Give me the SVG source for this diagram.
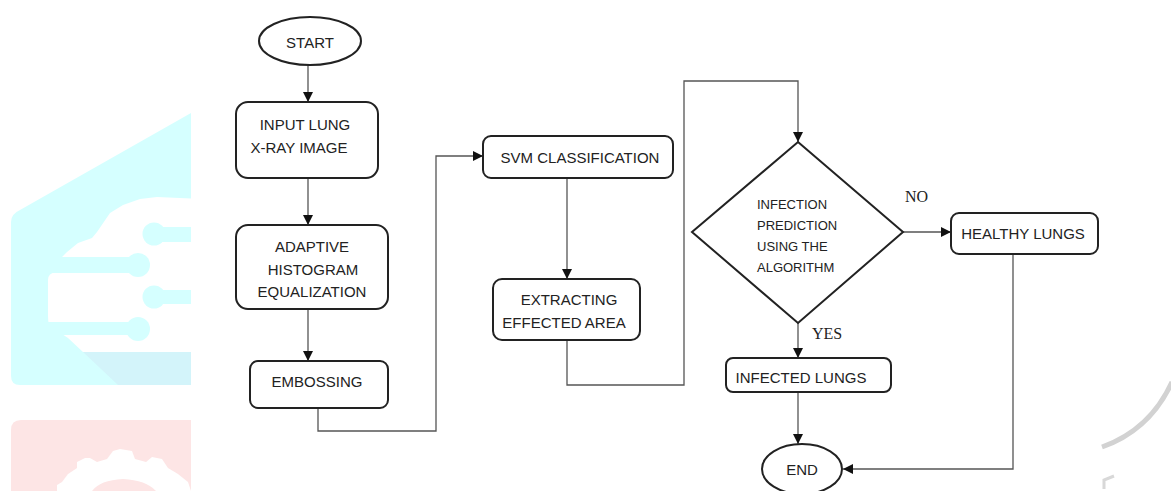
<svg xmlns="http://www.w3.org/2000/svg" width="1171" height="491" viewBox="0 0 1171 491">
  <style>
    .box { fill: #ffffff; stroke: #222222; stroke-width: 2; }
    .lbl { font-family: "Liberation Sans", Arial, sans-serif; font-size: 15px; fill: #222222; text-anchor: middle; dominant-baseline: central; }
    .dlbl { font-family: "Liberation Sans", Arial, sans-serif; font-size: 13px; fill: #222222; dominant-baseline: central; }
    .tag { font-family: "Liberation Serif", "Times New Roman", serif; font-size: 16px; fill: #222222; dominant-baseline: central; }
    .link { fill: none; stroke: #555555; stroke-width: 1.3; marker-end: url(#arrow); }
    .plain { fill: none; stroke: #555555; stroke-width: 1.3; }
  </style>
  <defs>
    <marker id="arrow" markerUnits="userSpaceOnUse" markerWidth="10" markerHeight="10" refX="10" refY="5" orient="auto">
      <path d="M0,0 L10,5 L0,10 z" fill="#111111"/>
    </marker>
    <clipPath id="wmclip">
      <rect x="0" y="0" width="191" height="491"/>
    </clipPath>
  </defs>

  <rect width="1171" height="491" fill="#ffffff"/>

  <!-- faded background emblem -->
  <g id="emblem" clip-path="url(#wmclip)">
    <path d="M11,222 Q11,214 20,210 L200,108 L200,385 L20,385 Q11,385 11,376 Z" fill="#d5ffff"/>
    <path d="M83,352 L200,352 L200,385 L118,385 Z" fill="#d3f4fa"/>
    <path d="M62,257 L67,252 L78,243 L92,238 L97,232 L110,213 L123,205 L140,199 L157,197 L200,199 L200,352 L83,352 L68,338 L62,334 L52,330 Q48,326 48,316 L48,280 Q48,273 56,272 Z" fill="#ffffff"/>
    <rect x="155" y="227" width="45" height="15" fill="#d5ffff"/>
    <circle cx="154" cy="234" r="11.5" fill="#d5ffff"/>
    <rect x="40" y="257" width="98" height="16" fill="#d5ffff"/>
    <circle cx="138" cy="265" r="12" fill="#d5ffff"/>
    <rect x="155" y="290" width="45" height="14" fill="#d5ffff"/>
    <circle cx="154" cy="297" r="11.5" fill="#d5ffff"/>
    <rect x="40" y="322" width="98" height="13" fill="#d5ffff"/>
    <circle cx="138" cy="329" r="12" fill="#d5ffff"/>
    <path d="M11,430 Q11,420 21,420 L200,420 L200,491 L11,491 Z" fill="#fde5e5"/>
    <path d="M57,491 L57,485 L62,482 L68,474 L77,468 L77,462 L85,458 L90,458 L97,462 L107,459 L113,451 L120,449 L132,451 L135,459 L146,462 L152,457 L162,459 L168,468 L178,474 L188,482 L191,491 Z" fill="#ffffff"/>
    <path d="M92,491 Q100,480 123,479 Q146,480 156,491 Z" fill="#fde5e5"/>
  </g>
  <path d="M1102,447 Q1150,430 1172,382" fill="none" stroke="#d2d2d2" stroke-width="5"/>
  <path d="M1104,489 L1104,480 L1114,476" fill="none" stroke="#d8d8d8" stroke-width="3"/>

  <!-- connectors -->
  <g id="connectors">
    <path class="link" d="M308,65 V102"/>
    <path class="link" d="M308,178 V225"/>
    <path class="link" d="M308,309 V361"/>
    <path class="link" d="M318,408 V431 H436 V156 H483"/>
    <path class="link" d="M567,178 V279"/>
    <path class="link" d="M567,340 V385 H684 V81 H798 V142"/>
    <path class="link" d="M903,232 H951"/>
    <path class="link" d="M798,323 V358"/>
    <path class="link" d="M798,392 V444"/>
    <path class="link" d="M1013,254 V469 H843"/>
  </g>

  <!-- nodes -->
  <g id="start">
    <ellipse class="box" cx="310" cy="41" rx="51" ry="24"/>
    <text class="lbl" x="310" y="42">START</text>
  </g>
  <g id="input">
    <rect class="box" x="236" y="102" width="142" height="76" rx="12"/>
    <text class="lbl" x="305" y="124">INPUT LUNG</text>
    <text class="lbl" x="299" y="147">X-RAY IMAGE</text>
  </g>
  <g id="ahe">
    <rect class="box" x="236" y="225" width="152" height="84" rx="12"/>
    <text class="lbl" x="312" y="246">ADAPTIVE</text>
    <text class="lbl" x="313" y="269">HISTOGRAM</text>
    <text class="lbl" x="312" y="291">EQUALIZATION</text>
  </g>
  <g id="emboss">
    <rect class="box" x="250" y="361" width="138" height="47" rx="8"/>
    <text class="lbl" x="317" y="381">EMBOSSING</text>
  </g>
  <g id="svm">
    <rect class="box" x="483" y="136" width="190" height="42" rx="8"/>
    <text class="lbl" x="580" y="157">SVM CLASSIFICATION</text>
  </g>
  <g id="extract">
    <rect class="box" x="493" y="279" width="147" height="61" rx="9"/>
    <text class="lbl" x="569" y="299">EXTRACTING</text>
    <text class="lbl" x="564" y="322">EFFECTED AREA</text>
  </g>
  <g id="decision">
    <polygon class="box" points="798,142 903,232 798,323 692,232"/>
    <text class="dlbl" x="757" y="204">INFECTION</text>
    <text class="dlbl" x="757" y="225">PREDICTION</text>
    <text class="dlbl" x="757" y="246">USING THE</text>
    <text class="dlbl" x="757" y="267">ALGORITHM</text>
  </g>
  <g id="no-label">
    <text class="tag" x="905" y="196">NO</text>
  </g>
  <g id="yes-label">
    <text class="tag" x="812" y="333">YES</text>
  </g>
  <g id="healthy">
    <rect class="box" x="951" y="213" width="147" height="41" rx="8"/>
    <text class="lbl" x="1023" y="233">HEALTHY LUNGS</text>
  </g>
  <g id="infected">
    <rect class="box" x="726" y="358" width="165" height="34" rx="7"/>
    <text class="lbl" x="801" y="377">INFECTED LUNGS</text>
  </g>
  <g id="end">
    <ellipse class="box" cx="802" cy="469" rx="40" ry="25"/>
    <text class="lbl" x="802" y="469">END</text>
  </g>
</svg>
